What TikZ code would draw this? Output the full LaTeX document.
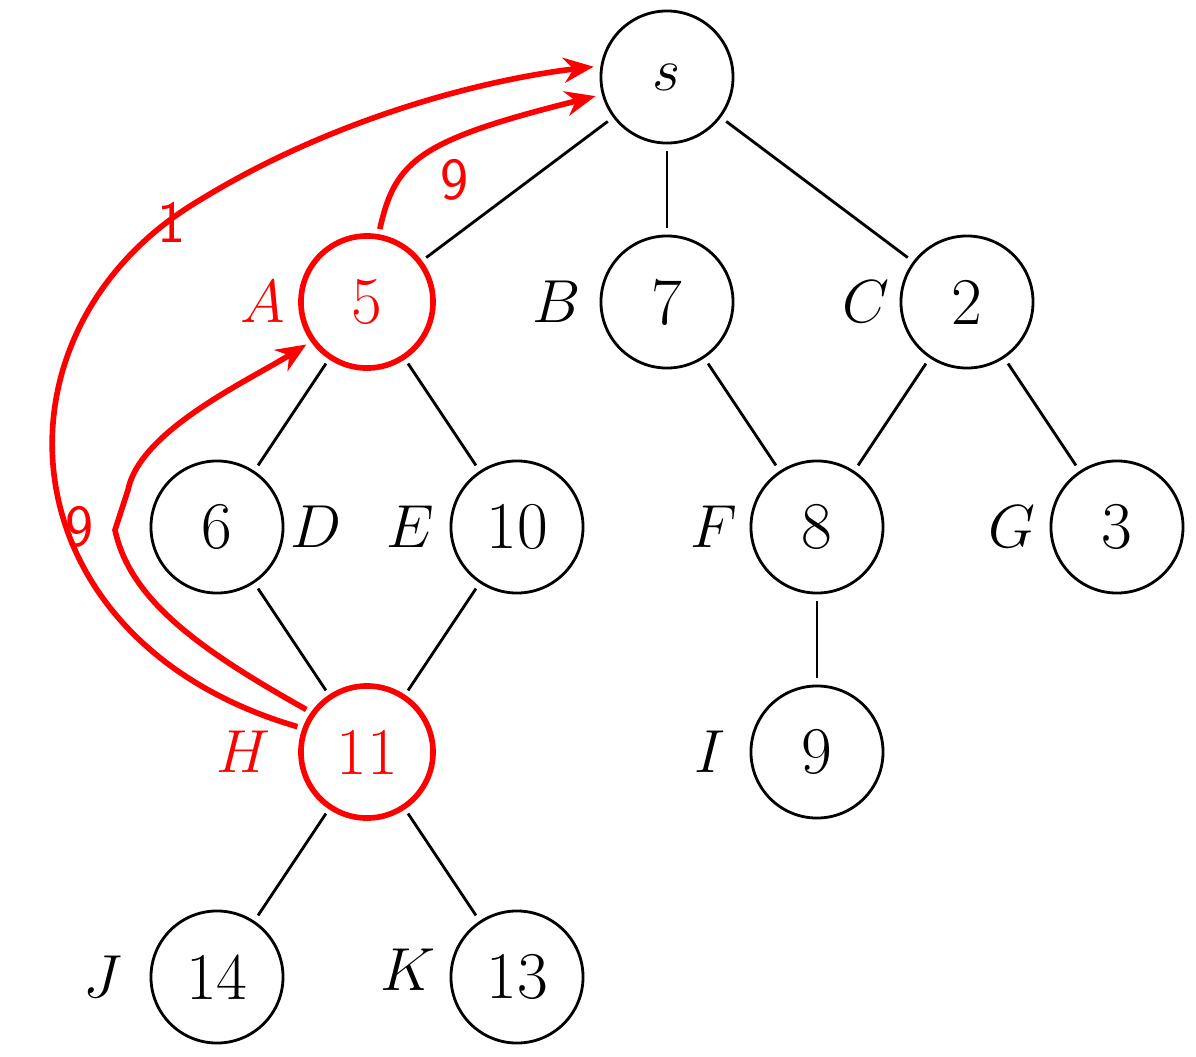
\documentclass[tikz,border=0pt]{standalone}
\usetikzlibrary{arrows.meta}
\begin{document}
\begin{tikzpicture}[x=0.01cm,y=-0.01cm,
    vert/.style={circle,draw,line width=0.8pt,minimum size=1.32cm,inner sep=0pt,outer sep=0.08cm,font=\fontsize{19}{22}\selectfont},
    hot/.style={vert,red,line width=1.6pt},
    lbl/.style={font=\fontsize{19}{22}\selectfont},
    path/.style={red,line width=1.6pt,-{Stealth[length=0.3cm,width=0.25cm]}},
    wt/.style={red,font=\sffamily\fontsize{17}{20}\selectfont}]
    \useasboundingbox (0,0) rectangle (1196,1057);
    % Vertices
    \node[vert] (s) at (667,77) {$s$};
    \node[hot] (A) at (367,302) {5};
    \node[vert] (B) at (667,302) {7};
    \node[vert] (C) at (967,302) {2};
    \node[vert] (D) at (217,527) {6};
    \node[vert] (E) at (517,527) {10};
    \node[vert] (F) at (817,527) {8};
    \node[vert] (G) at (1117,527) {3};
    \node[hot] (H) at (367,752) {11};
    \node[vert] (I) at (817,752) {9};
    \node[vert] (J) at (217,977) {14};
    \node[vert] (K) at (517,977) {13};
    % Names
    \node[lbl,red] (nA) at (263,302) {$A$};
    \node[lbl] (nB) at (557,302) {$B$};
    \node[lbl] (nC) at (866,302) {$C$};
    \node[lbl] (nD) at (316,527) {$D$};
    \node[lbl] (nE) at (410,527) {$E$};
    \node[lbl] (nF) at (714,527) {$F$};
    \node[lbl] (nG) at (1012,527) {$G$};
    \node[lbl,red] (nH) at (243,752) {$H$};
    \node[lbl] (nI) at (710,752) {$I$};
    \node[lbl] (nJ) at (103,977) {$J$};
    \node[lbl] (nK) at (408,970) {$K$};
    % Edges
    \foreach \a/\b in {s/A,s/B,s/C,A/D,A/E,B/F,C/F,C/G,D/H,E/H,F/I,H/J,H/K}
        \draw[line width=0.8pt] (\a) -- (\b);
    % Paths
    \coordinate (k) at (115,530);
    \draw[path] (H.160) .. controls (0,640) and (-20,330) .. (200,200)
        .. controls (330,120) and (480,80) .. (s.172);
    \draw[path] (H.145) .. controls (200,650) and (130,600) .. (k)
        -- (128,490) .. controls (140,430) and (250,380) .. (A.215);
    \draw[path] (A.80) .. controls (395,160) and (420,140) .. (s.195);
    \node[wt] (w1) at (172,222) {1};
    \node[wt] (w2) at (80,527) {9};
    \node[wt] (w3) at (455,180) {9};
\end{tikzpicture}
\end{document}
